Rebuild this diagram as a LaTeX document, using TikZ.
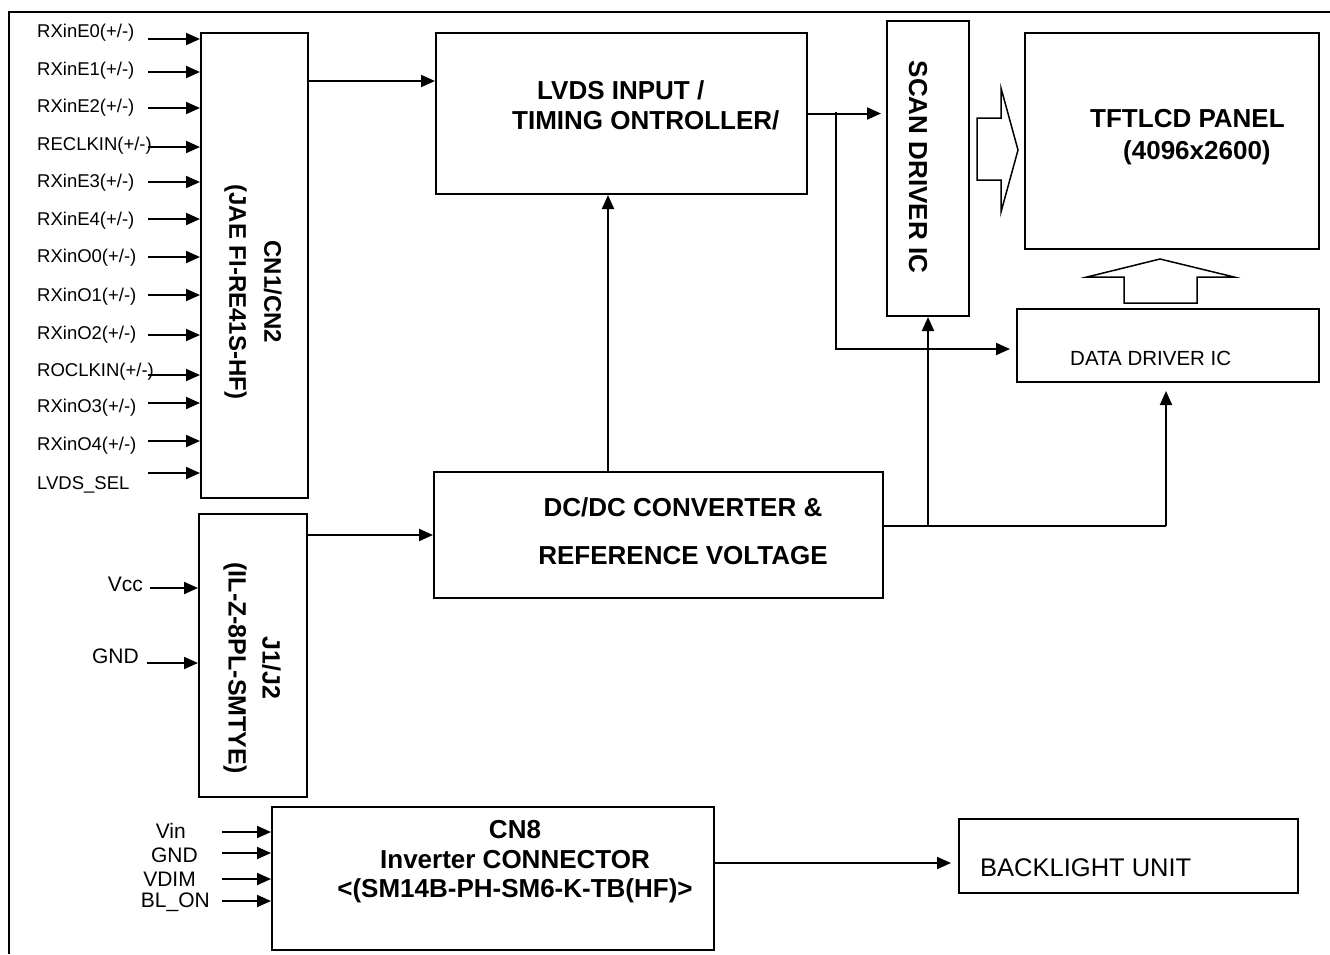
\documentclass[tikz,border=0pt]{standalone}
\usepackage{fontspec}
\setmainfont{Liberation Sans}
\usetikzlibrary{arrows.meta, positioning}

\tikzset{
  blk/.style={draw, line width=2pt, inner sep=0pt, anchor=north west},
  arr/.style={line width=2pt, -{Triangle[length=14pt, width=12pt]}},
  sig/.style={font=\fontsize{18.5}{22}\selectfont, inner sep=0pt, anchor=west},
  pwr/.style={font=\fontsize{21}{24}\selectfont, inner sep=0pt, anchor=east},
  ttl/.style={font=\bfseries\fontsize{26}{30}\selectfont, inner sep=0pt},
  hollow/.style={draw, line width=1.5pt, line join=miter},
}

\begin{document}
\begin{tikzpicture}[x=1pt, y=-1pt]
  \useasboundingbox (0,0) rectangle (1330,954);
  % === Frame ===
  \draw[line width=1.5pt] (9,954) -- (9,12) -- (1330,12);

  % === Connectors (left) ===
  \node[blk, minimum width=107, minimum height=465] (cn) at (200,32) {};
  \node[ttl, rotate=-90, align=center, font=\bfseries\fontsize{24}{35}\selectfont] at (253,292) {CN1/CN2\\(JAE FI-RE41S-HF)};
  \node[blk, minimum width=108, minimum height=283] (jj) at (198,513) {};
  \node[ttl, rotate=-90, align=center, font=\bfseries\fontsize{25}{34}\selectfont] at (252,668) {J1/J2\\(IL-Z-8PL-SMTYE)};

  % LVDS inputs
  \foreach \lab/\ly/\ay [count=\i] in {{RXinE0(+/-)}/33/39, {RXinE1(+/-)}/71/72,
      {RXinE2(+/-)}/108/108, {RECLKIN(+/-)}/146/147, {RXinE3(+/-)}/183/182,
      {RXinE4(+/-)}/221/219, {RXinO0(+/-)}/258/257, {RXinO1(+/-)}/297/295,
      {RXinO2(+/-)}/335/335, {ROCLKIN(+/-)}/372/375, {RXinO3(+/-)}/408/403,
      {RXinO4(+/-)}/446/441, {LVDS\_SEL}/485/473} {
    \node[sig] (s\i) at (37,\ly) {\lab};
    \coordinate (in\i) at (148,\ay);
    \draw[arr] (in\i) -- (in\i -| cn.west);
  }
  % power inputs
  \node[pwr] (vcc) at (143,584) {Vcc};
  \coordinate (pv) at (150,588);
  \draw[arr] (pv) -- (pv -| jj.west);
  \node[pwr] (gnd) at (139,656) {GND};
  \coordinate (pg) at (147,663);
  \draw[arr] (pg) -- (pg -| jj.west);

  % === Main blocks ===
  \node[blk, minimum width=371, minimum height=161] (lvds) at (435,32) {};
  \node[ttl, align=left, anchor=west] at (512,105) {\hspace*{25pt}LVDS INPUT /\\TIMING ONTROLLER/};
  \node[blk, minimum width=449, minimum height=126] (dc) at (433,471) {};
  \node[ttl, align=center, font=\bfseries\fontsize{26}{48}\selectfont] at (683,531) {DC/DC CONVERTER \&\\REFERENCE VOLTAGE};
  \node[blk, minimum width=82, minimum height=295] (scan) at (886,20) {};
  \node[ttl, rotate=-90] at (918,167) {SCAN DRIVER IC};
  \node[blk, minimum width=294, minimum height=216] (tft) at (1024,32) {};
  \node[ttl, align=left, anchor=west, font=\bfseries\fontsize{26}{32}\selectfont] at (1090,137) {TFTLCD PANEL\\\hspace*{33pt}(4096x2600)};
  \node[blk, minimum width=302, minimum height=73] (data) at (1016,308) {};
  \node[font=\fontsize{20.5}{24}\selectfont, inner sep=0pt, anchor=west] at (1070,358) {DATA DRIVER IC};

  % hollow arrows to the panel
  \draw[hollow] (977,118) -- (1001,118) -- (1001,88) -- (1018,150) -- (1001,212) -- (1001,180) -- (977,180) -- cycle;
  \draw[hollow] (1124,303) -- (1124,277) -- (1087,277) -- (1160,259) -- (1234,277) -- (1197,277) -- (1197,303) -- cycle;

  % === Signal paths ===
  \draw[arr] (cn.east |- 0,81) -- (lvds.west |- 0,81);
  \draw[arr, shorten >=5pt] (lvds.east) -- (scan.west |- lvds.east);
  \coordinate (br) at (836,112);
  \draw[arr, shorten >=6pt] (br) |- (data.west |- 0,349);
  \coordinate (up) at (608,0);
  \draw[arr] (dc.north -| up) -- (lvds.south -| up);
  \draw[arr] (jj.east |- dc.west) -- (dc.west);
  \coordinate (pw) at (1166,526);
  \draw[line width=2pt] (dc.east |- pw) -- (pw);
  \draw[arr] (scan.south |- pw) -- (scan.south);
  \draw[arr, shorten >=8pt] (pw) -- (data.south -| pw);

  % === Backlight ===
  \node[blk, minimum width=442, minimum height=143] (cn8) at (271,806) {};
  \node[ttl, align=center, font=\bfseries\fontsize{26}{29.5}\selectfont] at (515,862) {CN8\\Inverter CONNECTOR\\<(SM14B-PH-SM6-K-TB(HF)>};
  \foreach \lab/\lx/\ly/\ay [count=\i] in {Vin/186/831/832, GND/198/855/853, VDIM/196/879/879, BL\_ON/210/902/901} {
    \node[pwr] (b\i) at (\lx,\ly) {\lab};
    \coordinate (bi\i) at (222,\ay);
    \draw[arr] (bi\i) -- (bi\i -| cn8.west);
  }
  \node[blk, minimum width=339, minimum height=74] (blu) at (958,818) {};
  \node[font=\fontsize{25.5}{30}\selectfont, inner sep=0pt, anchor=west] at (980,868) {BACKLIGHT UNIT};
  \coordinate (bo) at (713,863);
  \draw[arr, shorten >=7pt] (bo) -- (blu.west |- bo);
\end{tikzpicture}
\end{document}
